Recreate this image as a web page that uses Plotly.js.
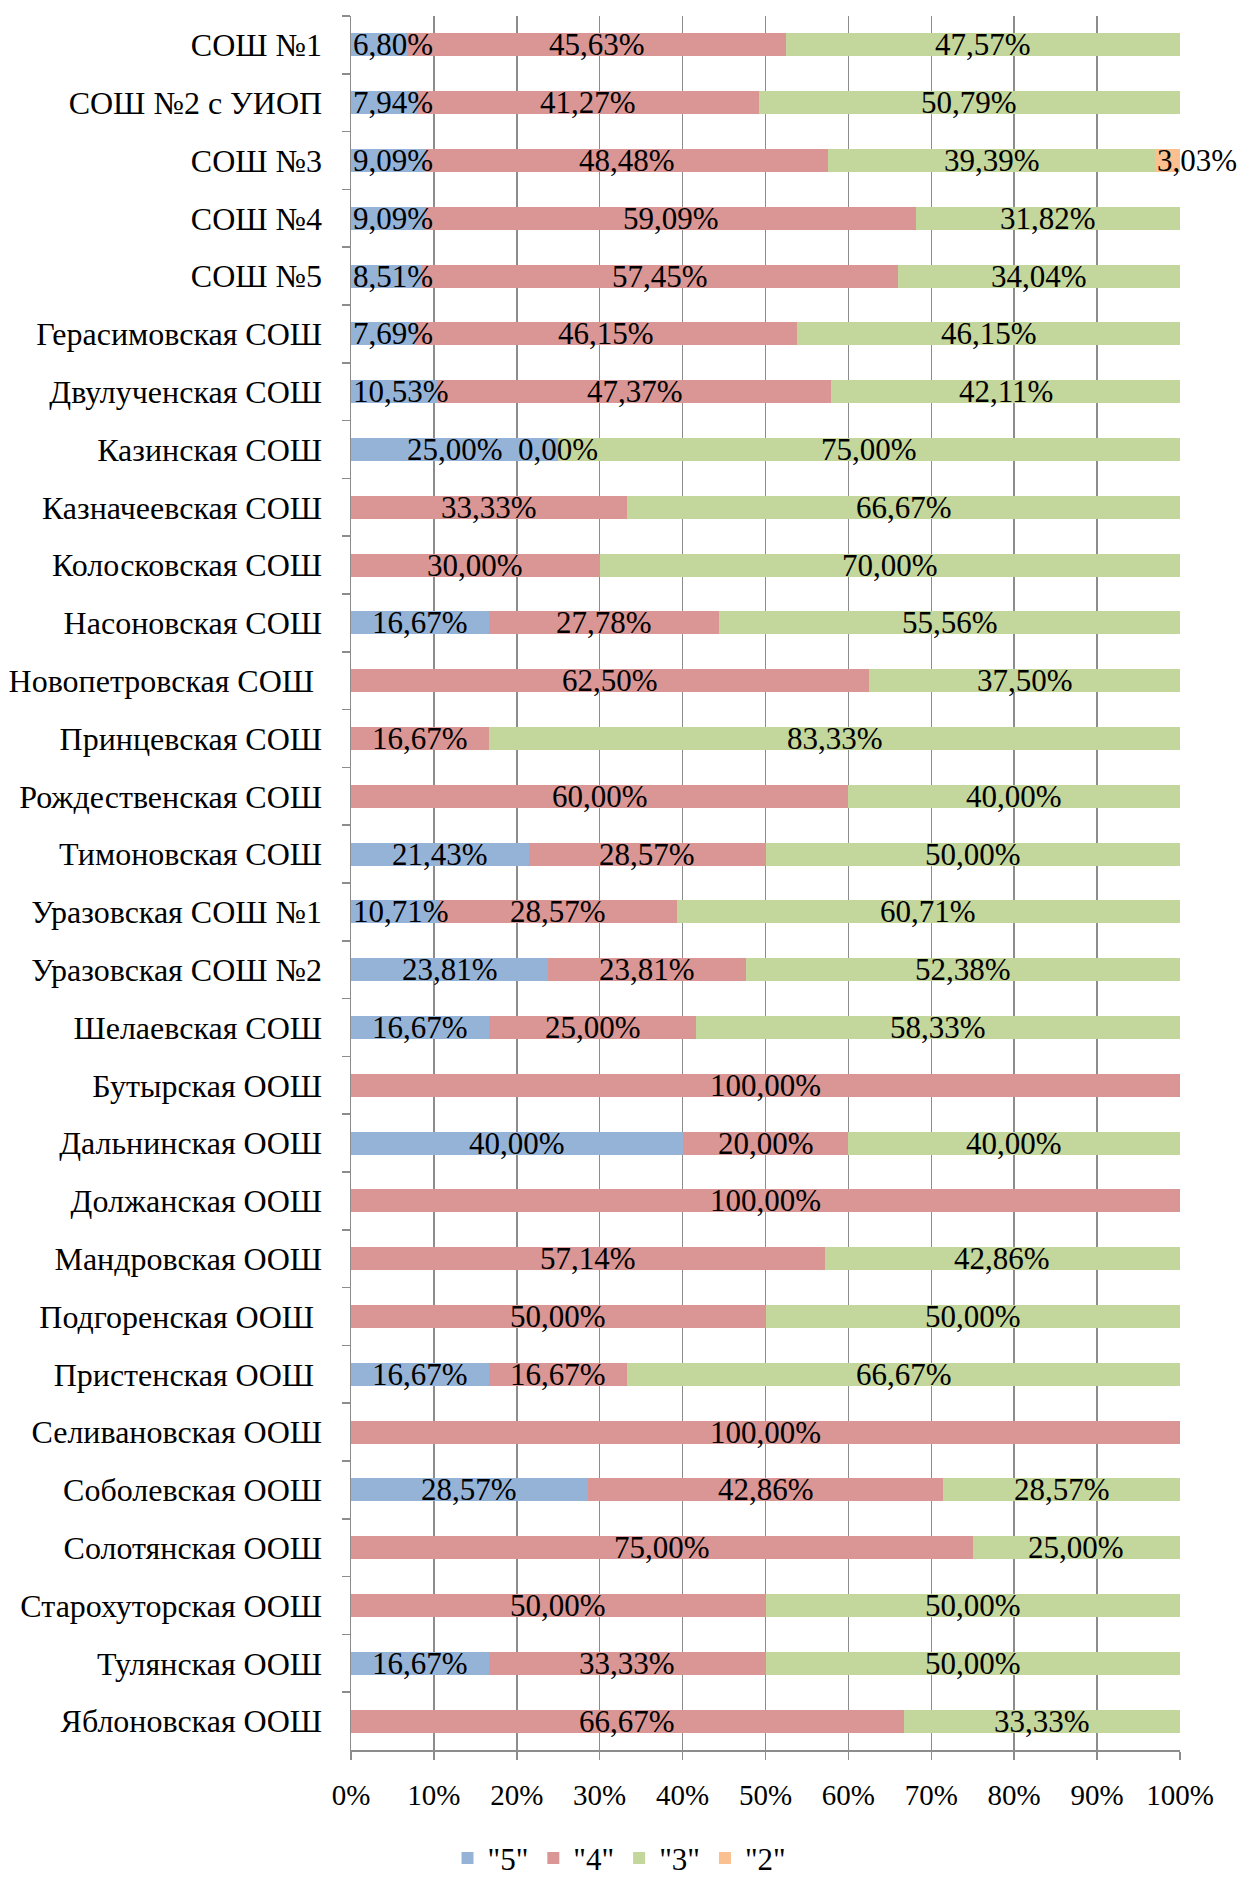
<!DOCTYPE html>
<html>
<head>
<meta charset="utf-8">
<script src="https://cdn.plot.ly/plotly-3.0.1.min.js"></script>
<style>html,body{margin:0;padding:0;background:#fff}#chart{width:1239px;height:1879px}</style>
</head>
<body>
<div id="chart"></div>
<script>
const categories = [
  'СОШ №1','СОШ №2 с УИОП','СОШ №3','СОШ №4','СОШ №5','Герасимовская СОШ','Двулученская СОШ',
  'Казинская СОШ','Казначеевская СОШ','Колосковская СОШ','Насоновская СОШ','Новопетровская СОШ\u00a0',
  'Принцевская СОШ','Рождественская СОШ','Тимоновская СОШ','Уразовская СОШ №1','Уразовская СОШ №2',
  'Шелаевская СОШ','Бутырская ООШ','Дальнинская ООШ','Должанская ООШ','Мандровская ООШ',
  'Подгоренская ООШ\u00a0','Пристенская ООШ\u00a0','Селивановская ООШ','Соболевская ООШ',
  'Солотянская ООШ','Старохуторская ООШ','Тулянская ООШ','Яблоновская ООШ'
];
const grade5 = [6.80,7.94,9.09,9.09,8.51,7.69,10.53,25.00,null,null,16.67,null,null,null,21.43,10.71,23.81,16.67,null,40.00,null,null,null,16.67,null,28.57,null,null,16.67,null];
const grade4 = [45.63,41.27,48.48,59.09,57.45,46.15,47.37,0.00,33.33,30.00,27.78,62.50,16.67,60.00,28.57,28.57,23.81,25.00,100.00,20.00,100.00,57.14,50.00,16.67,100.00,42.86,75.00,50.00,33.33,66.67];
const grade3 = [47.57,50.79,39.39,31.82,34.04,46.15,42.11,75.00,66.67,70.00,55.56,37.50,83.33,40.00,50.00,60.71,52.38,58.33,null,40.00,null,42.86,50.00,66.67,null,28.57,25.00,50.00,50.00,33.33];
const grade2 = [null,null,3.03,null,null,null,null,null,null,null,null,null,null,null,null,null,null,null,null,null,null,null,null,null,null,null,null,null,null,null];
const seriesNames = ['"5"','"4"','"3"','"2"'];
const seriesColors = ['#95B3D7','#D99694','#C3D69B','#FAC090'];
const tickLabels = ['0%','10%','20%','30%','40%','50%','60%','70%','80%','90%','100%'];
const tickVals = [0,10,20,30,40,50,60,70,80,90,100];

const FONT = 'Liberation Serif, Times New Roman, serif';
const allSeries = [grade5, grade4, grade3, grade2];

const traces = allSeries.map((vals, i) => ({
  type: 'bar', orientation: 'h', name: seriesNames[i],
  y: categories, x: vals.map(v => v === null ? 0 : v),
  marker: {color: seriesColors[i], line: {width: 0}},
  hoverinfo: 'skip'
}));

const fmt = v => v.toFixed(2).replace('.', ',') + '%';
const annotations = [];
categories.forEach((c, r) => {
  let start = 0;
  allSeries.forEach(vals => {
    const v = vals[r];
    if (v === null) return;
    const narrow = v > 0 && v < 12;
    annotations.push({
      x: narrow ? start : start + v / 2, y: c, xref: 'x', yref: 'y',
      text: fmt(v), showarrow: false,
      xanchor: narrow ? 'left' : 'center', yanchor: 'middle',
      font: {family: FONT, size: 31, color: '#000'}
    });
    start += v;
  });
});

const layout = {
  width: 1239, height: 1879,
  margin: {l: 351, r: 59, t: 16, b: 129},
  paper_bgcolor: '#fff', plot_bgcolor: '#fff',
  barmode: 'stack', bargap: 0.6,
  font: {family: FONT, size: 30, color: '#000'},
  xaxis: {
    range: [0, 100], tickvals: tickVals, ticktext: tickLabels,
    showgrid: true, gridcolor: '#8c8c8c', gridwidth: 1.5,
    showline: true, linecolor: '#8c8c8c', linewidth: 1.5,
    ticks: 'outside', ticklen: 8, tickcolor: '#8c8c8c', tickwidth: 1.5,
    ticklabelstandoff: 11, zeroline: false, fixedrange: true,
    tickfont: {family: FONT, size: 29, color: '#000'}
  },
  yaxis: {
    type: 'category', autorange: 'reversed',
    showline: true, linecolor: '#8c8c8c', linewidth: 1.5,
    ticks: 'outside', tickson: 'boundaries', ticklen: 8, tickcolor: '#8c8c8c', tickwidth: 1.5,
    ticklabelstandoff: 21, showgrid: false, zeroline: false, fixedrange: true,
    tickfont: {family: FONT, size: 32, color: '#000'}
  },
  showlegend: true,
  legend: {
    orientation: 'h', xref: 'container', yref: 'container',
    x: 0.5, xanchor: 'center', y: 0.011, yanchor: 'middle',
    font: {family: FONT, size: 31, color: '#000'},
    itemwidth: 30, tracegroupgap: 0, traceorder: 'normal'
  },
  annotations: annotations
};

Plotly.newPlot('chart', traces, layout, {displayModeBar: false, staticPlot: true});
</script>
</body>
</html>
